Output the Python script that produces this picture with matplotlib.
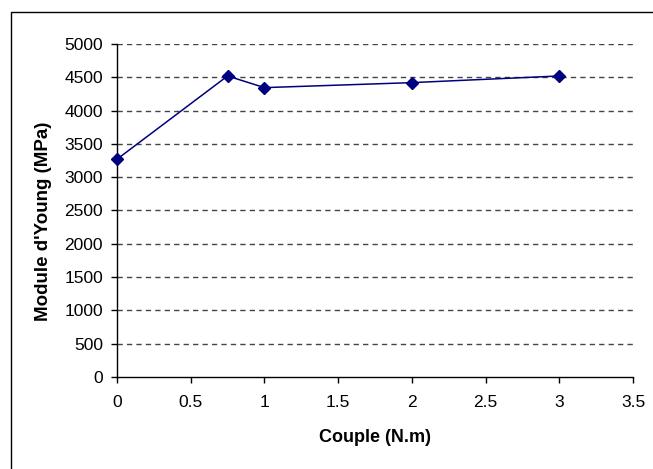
import matplotlib
matplotlib.use("Agg")
import matplotlib.pyplot as plt
from matplotlib.patches import Rectangle

couple = [0, 0.75, 1, 2, 3]
module = [3270, 4520, 4345, 4420, 4520]
xticks = [0, 0.5, 1, 1.5, 2, 2.5, 3, 3.5]
yticks = list(range(0, 5001, 500))

plt.rcParams['font.family'] = ['Liberation Sans', 'DejaVu Sans']

W, H = 653, 469
fig = plt.figure(figsize=(W/100, H/100), dpi=100)
ax = fig.add_axes([117/W, (H-377)/H, (633-117)/W, (377-44)/H])

for y in yticks[1:]:
    ax.axhline(y, color='#444444', lw=1.0, dashes=(3.8, 3.0), zorder=1)

ax.plot(couple, module, color='#000080', lw=1.1, marker='D', markersize=6.2,
        markerfacecolor='#000080', markeredgecolor='#000080', zorder=3, clip_on=False)

ax.set_xlim(0, 3.5)
ax.set_ylim(0, 5000)
ax.set_xticks(xticks)
ax.set_xticklabels([f"{t:g}" for t in xticks])
ax.set_yticks(yticks)
ax.set_yticklabels([str(t) for t in yticks])
for s in ['top', 'right']:
    ax.spines[s].set_visible(False)
for s in ['left', 'bottom']:
    ax.spines[s].set_linewidth(1.0)
    ax.spines[s].set_color('black')
ax.tick_params(axis='both', direction='out', length=4, width=1, labelsize=12.5)
ax.tick_params(axis='y', pad=6)
ax.tick_params(axis='x', pad=9)

ax.set_xlabel("Couple (N.m)", fontsize=13, fontweight='bold')
ax.set_ylabel("Module d'Young (MPa)", fontsize=13.5, fontweight='bold')
ax.xaxis.set_label_coords((375-117)/(633-117), -(437-377)/(377-44), transform=ax.transAxes)
ax.xaxis.label.set_va('center')
ax.yaxis.set_label_coords(-(117-44)/(633-117), (377-221)/(377-44), transform=ax.transAxes)
ax.yaxis.label.set_va('center')

fig.patches.append(Rectangle((11/W, -0.1), 1.2, (H-12)/H + 0.1, transform=fig.transFigure,
                             fill=False, edgecolor='black', lw=1.0))

fig.savefig("out.png", dpi=100)
